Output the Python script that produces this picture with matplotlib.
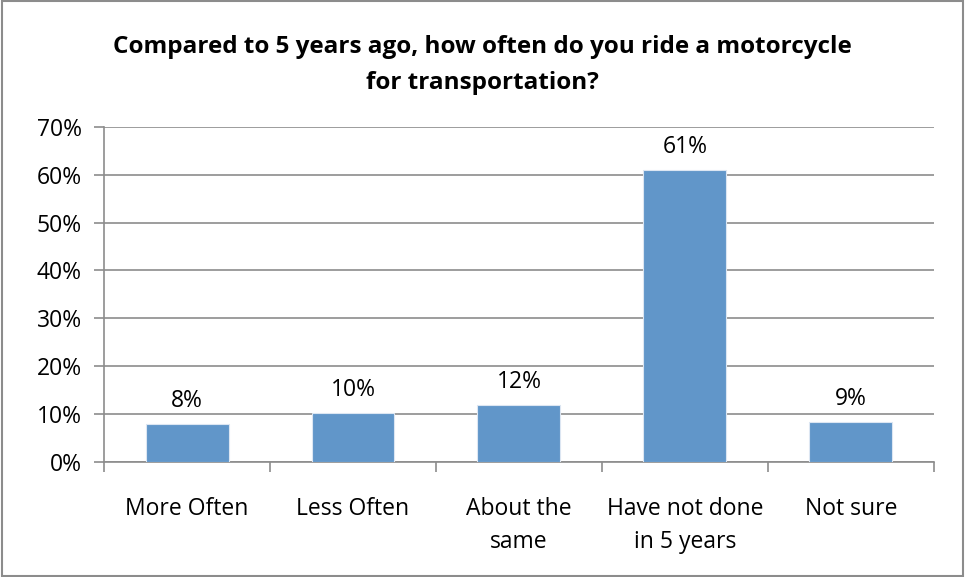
import numpy as np
import matplotlib.pyplot as plt
from matplotlib.patches import Rectangle

categories = ["More Often", "Less Often", "About the\nsame", "Have not done\nin 5 years", "Not sure"]
values = [7.9, 10.3, 11.8, 61.0, 8.4]
labels = ["8%", "10%", "12%", "61%", "9%"]
yticks = [0, 10, 20, 30, 40, 50, 60, 70]

plt.rcParams['font.family'] = ['Open Sans', 'DejaVu Sans']

fig = plt.figure(figsize=(9.65, 5.77), dpi=100)
ax = fig.add_axes([0.1078, 0.1993, 0.860, 0.581])

x = np.arange(len(categories))
ax.bar(x, values, width=0.5, color="#6196C9", edgecolor="#DCE6F2", linewidth=0.8, zorder=3)

for xi, v, lab in zip(x, values, labels):
    ax.text(xi, v + 2.3, lab, ha="center", va="bottom", fontsize=16.5, color="black")

ax.set_xlim(-0.5, len(categories) - 0.5)
ax.set_ylim(0, 70)
ax.set_yticks(yticks)
ax.set_yticklabels([f"{t}%" for t in yticks], fontsize=16.5)
ax.yaxis.grid(True, color="#8C8C8C", linewidth=1.2, zorder=0)

ax.set_xticks(np.arange(-0.5, len(categories), 1.0))
ax.set_xticklabels([])
ax.set_xticks(x, minor=True)
ax.set_xticklabels(categories, minor=True, fontsize=16.5, linespacing=1.5)
ax.tick_params(axis="x", which="minor", length=0, pad=25)
ax.tick_params(axis="x", which="major", length=7, color="#8C8C8C", width=1.2)
ax.tick_params(axis="y", length=7, color="#8C8C8C", width=1.2, pad=9)

for s in ["top", "right"]:
    ax.spines[s].set_visible(False)
for s in ["left", "bottom"]:
    ax.spines[s].set_color("#8C8C8C")
    ax.spines[s].set_linewidth(1.2)

fig.text(0.5, 0.887, "Compared to 5 years ago, how often do you ride a motorcycle\nfor transportation?",
         ha="center", va="center", fontsize=17.5, fontweight="bold", linespacing=1.65)

fig.patches.append(Rectangle((0.002, 0.002), 0.996, 0.996, transform=fig.transFigure,
                             fill=False, edgecolor="#8C8C8C", linewidth=1.5))

fig.savefig("out.png", dpi=100)
